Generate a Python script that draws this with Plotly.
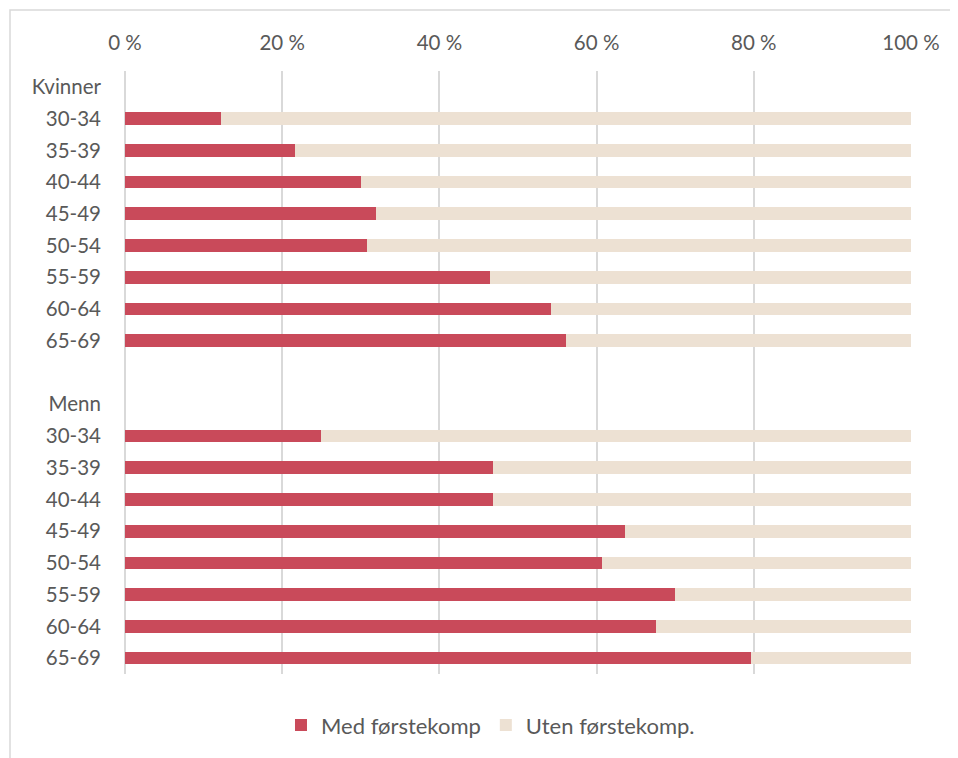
import plotly.graph_objects as go

groups = ["Kvinner", "Menn"]
age_groups = ["30-34", "35-39", "40-44", "45-49", "50-54", "55-59", "60-64", "65-69"]
kvinner_med = [12.2, 21.6, 30.0, 31.9, 30.8, 46.4, 54.2, 56.1]
menn_med = [24.9, 46.8, 46.8, 63.6, 60.7, 70.0, 67.6, 79.6]
series_names = ["Med førstekomp", "Uten førstekomp."]
x_ticks = [0, 20, 40, 60, 80, 100]
x_ticktext = ["0 %", "20 %", "40 %", "60 %", "80 %", "100 %"]

RED = "#C94A5A"
BEIGE = "#EDE1D3"
GRID = "#D9D9D9"
TXT = "#595959"
FONT = "Lato, Open Sans, sans-serif"
FS = 20.5

# build row layout: header, 8 rows, blank, header, 8 rows
tickvals, ticktext = [], []
bar_y, med_vals = [], []
pos = 0
for gi, (g, vals) in enumerate(zip(groups, [kvinner_med, menn_med])):
    if gi > 0:
        pos += 1  # blank row
    tickvals.append(pos); ticktext.append(g)
    pos += 1
    for a, v in zip(age_groups, vals):
        tickvals.append(pos); ticktext.append(a)
        bar_y.append(pos); med_vals.append(v)
        pos += 1
uten_vals = [100 - v for v in med_vals]

fig = go.Figure()
fig.add_trace(go.Bar(y=bar_y, x=med_vals, orientation="h", name=series_names[0],
                     marker=dict(color=RED, line=dict(width=0))))
fig.add_trace(go.Bar(y=bar_y, x=uten_vals, orientation="h", name=series_names[1],
                     marker=dict(color=BEIGE, line=dict(width=0))))

# page body has an 8px margin
W, H = 958, 758
L, R, T, B = 117, 55, 63, 92
pw, ph = W - L - R, H - T - B
bx = (2 - L) / pw
by = 1 + (T - 2) / ph

fig.update_layout(
    width=W, height=H,
    margin=dict(l=L, r=R, t=T, b=B),
    barmode="stack", bargap=0.6,
    plot_bgcolor="white", paper_bgcolor="white",
    font=dict(family=FONT, size=FS, color=TXT),
    showlegend=True,
    legend=dict(orientation="h", x=0.465, xanchor="center", y=-0.085, yanchor="middle",
                font=dict(size=22, color=TXT), traceorder="normal"),
    xaxis=dict(side="top", range=[0, 100], tickvals=x_ticks, ticktext=x_ticktext,
               showgrid=True, gridcolor=GRID, gridwidth=1.5,
               zeroline=True, zerolinecolor=GRID, zerolinewidth=1.5,
               showline=False, ticks="", ticklabelstandoff=16, fixedrange=True),
    yaxis=dict(tickvals=tickvals, ticktext=ticktext, range=[pos - 0.5, -0.5],
               showgrid=False, zeroline=False, showline=False, ticks="",
               ticklabelstandoff=23, fixedrange=True),
    shapes=[dict(type="path", xref="paper", yref="paper",
                 path=f"M {bx} -1 L {bx} {by} L 1.5 {by}",
                 line=dict(color=GRID, width=1.5))],
)

fig.write_html("out.html")
